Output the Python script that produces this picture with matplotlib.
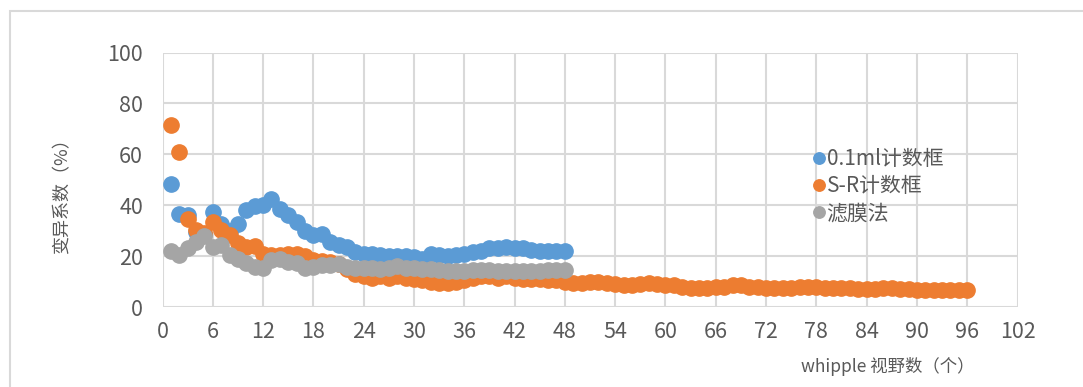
import matplotlib
matplotlib.use("Agg")
import matplotlib.pyplot as plt
from matplotlib.patches import Rectangle

plt.rcParams['font.family'] = ['Noto Sans CJK SC', 'DejaVu Sans']

# Coefficient of variation (%) versus number of whipple fields counted
fields_short = list(range(1, 49))
fields_long = list(range(1, 97))

cv_01ml = [48.5, 36.5, 36.0, 29.5, 28.5, 37.4, 32.8, 30.0, 32.5, 38.3,
           39.5, 40.0, 42.6, 38.7, 36.0, 33.5, 29.8, 28.2, 28.5, 25.6,
           24.5, 23.6, 21.5, 21.0, 21.0, 20.5, 20.0, 20.0, 20.0, 19.5,
           19.0, 21.0, 20.5, 20.0, 20.5, 21.0, 21.5, 22.0, 23.0, 23.0,
           23.5, 23.0, 23.0, 22.5, 22.0, 22.0, 22.0, 22.0]

cv_sr = [71.4, 60.9, 34.4, 30.2, 29.0, 33.5, 30.2, 28.2, 25.2, 23.6,
         23.9, 21.0, 20.5, 20.5, 21.0, 21.0, 20.0, 18.5, 18.0, 17.5,
         17.0, 15.0, 13.0, 12.0, 11.5, 12.0, 11.5, 12.0, 11.5, 11.0,
         10.5, 10.0, 9.5, 9.5, 10.0, 10.5, 11.5, 12.0, 12.0, 11.5,
         12.0, 11.5, 11.0, 11.0, 11.0, 10.5, 10.5, 10.0, 9.5, 9.5,
         10.0, 10.0, 9.5, 9.0, 8.5, 8.5, 9.0, 9.5, 9.0, 8.5,
         8.5, 8.0, 7.5, 7.5, 7.5, 8.0, 8.0, 8.5, 8.5, 8.0,
         8.0, 7.5, 7.5, 7.5, 7.5, 8.0, 8.0, 8.0, 7.5, 7.5,
         7.5, 7.5, 7.0, 7.0, 7.0, 7.5, 7.5, 7.0, 7.0, 6.5,
         6.5, 6.5, 6.5, 6.5, 6.5, 6.5]

cv_membrane = [22.0, 20.6, 23.0, 25.6, 28.0, 23.6, 24.3, 20.4, 19.0, 17.1,
               15.8, 15.2, 18.5, 18.8, 17.8, 17.2, 15.4, 15.8, 16.5, 16.5,
               17.0, 15.8, 15.5, 15.5, 15.5, 15.0, 15.5, 16.0, 15.5, 15.5,
               15.0, 15.0, 14.5, 14.0, 14.0, 14.0, 14.5, 14.5, 14.5, 14.0,
               14.0, 14.0, 14.0, 14.0, 14.0, 14.5, 14.5, 14.5]

series_names = ['0.1ml计数框', 'S-R计数框', '滤膜法']
colors = ['#5B9BD5', '#ED7D31', '#A5A5A5']

x_ticks = list(range(0, 103, 6))
y_ticks = list(range(0, 101, 20))

W, H = 1083, 387
fig = plt.figure(figsize=(W / 100, H / 100), dpi=100)
fig.patch.set_facecolor('white')

# outer chart frame
fig.patches.append(Rectangle((10 / W, -0.1), 1.2, (H - 11) / H + 0.1,
                             transform=fig.transFigure, fill=False,
                             edgecolor='#D9D9D9', linewidth=1.5, zorder=0))

ax = fig.add_axes([162.5 / W, (H - 307) / H, (1017.5 - 162.5) / W, (307 - 52.5) / H])

ax.plot(fields_long, cv_sr, 'o', color=colors[1], markersize=11, label=series_names[1], zorder=3)
ax.plot(fields_short, cv_membrane, 'o', color=colors[2], markersize=11, label=series_names[2], zorder=4)
ax.plot(fields_short, cv_01ml, 'o', color=colors[0], markersize=11, label=series_names[0], zorder=2)

ax.set_xlim(0, 102)
ax.set_ylim(0, 100)
ax.set_xticks(x_ticks)
ax.set_yticks(y_ticks)
ax.grid(True, color='#D9D9D9', linewidth=1.5, zorder=0)
ax.set_axisbelow(True)
for s in ax.spines.values():
    s.set_visible(False)
ax.tick_params(axis='both', length=0, labelsize=15.5, labelcolor='#595959')
ax.tick_params(axis='y', pad=14)
ax.tick_params(axis='x', pad=10)

fig.text(62 / W, 1 - 192 / H, '变异系数（%）', rotation=90, ha='center', va='center',
         fontsize=13, color='#595959')
fig.text(888 / W, 1 - 366 / H, 'whipple 视野数（个）', ha='center', va='center',
         fontsize=12.5, color='#595959')

h, l = ax.get_legend_handles_labels()
order = [2, 0, 1]
leg = ax.legend([h[i] for i in order], [l[i] for i in order],
                loc='upper left', bbox_to_anchor=(814 / W, 1 - 148 / H),
                bbox_transform=fig.transFigure, frameon=False,
                fontsize=15, labelcolor='#595959', markerscale=0.75,
                handlelength=0.45, handletextpad=0.15, labelspacing=0.25,
                borderpad=0, borderaxespad=0)

fig.savefig('out.png', dpi=100, facecolor='white')
